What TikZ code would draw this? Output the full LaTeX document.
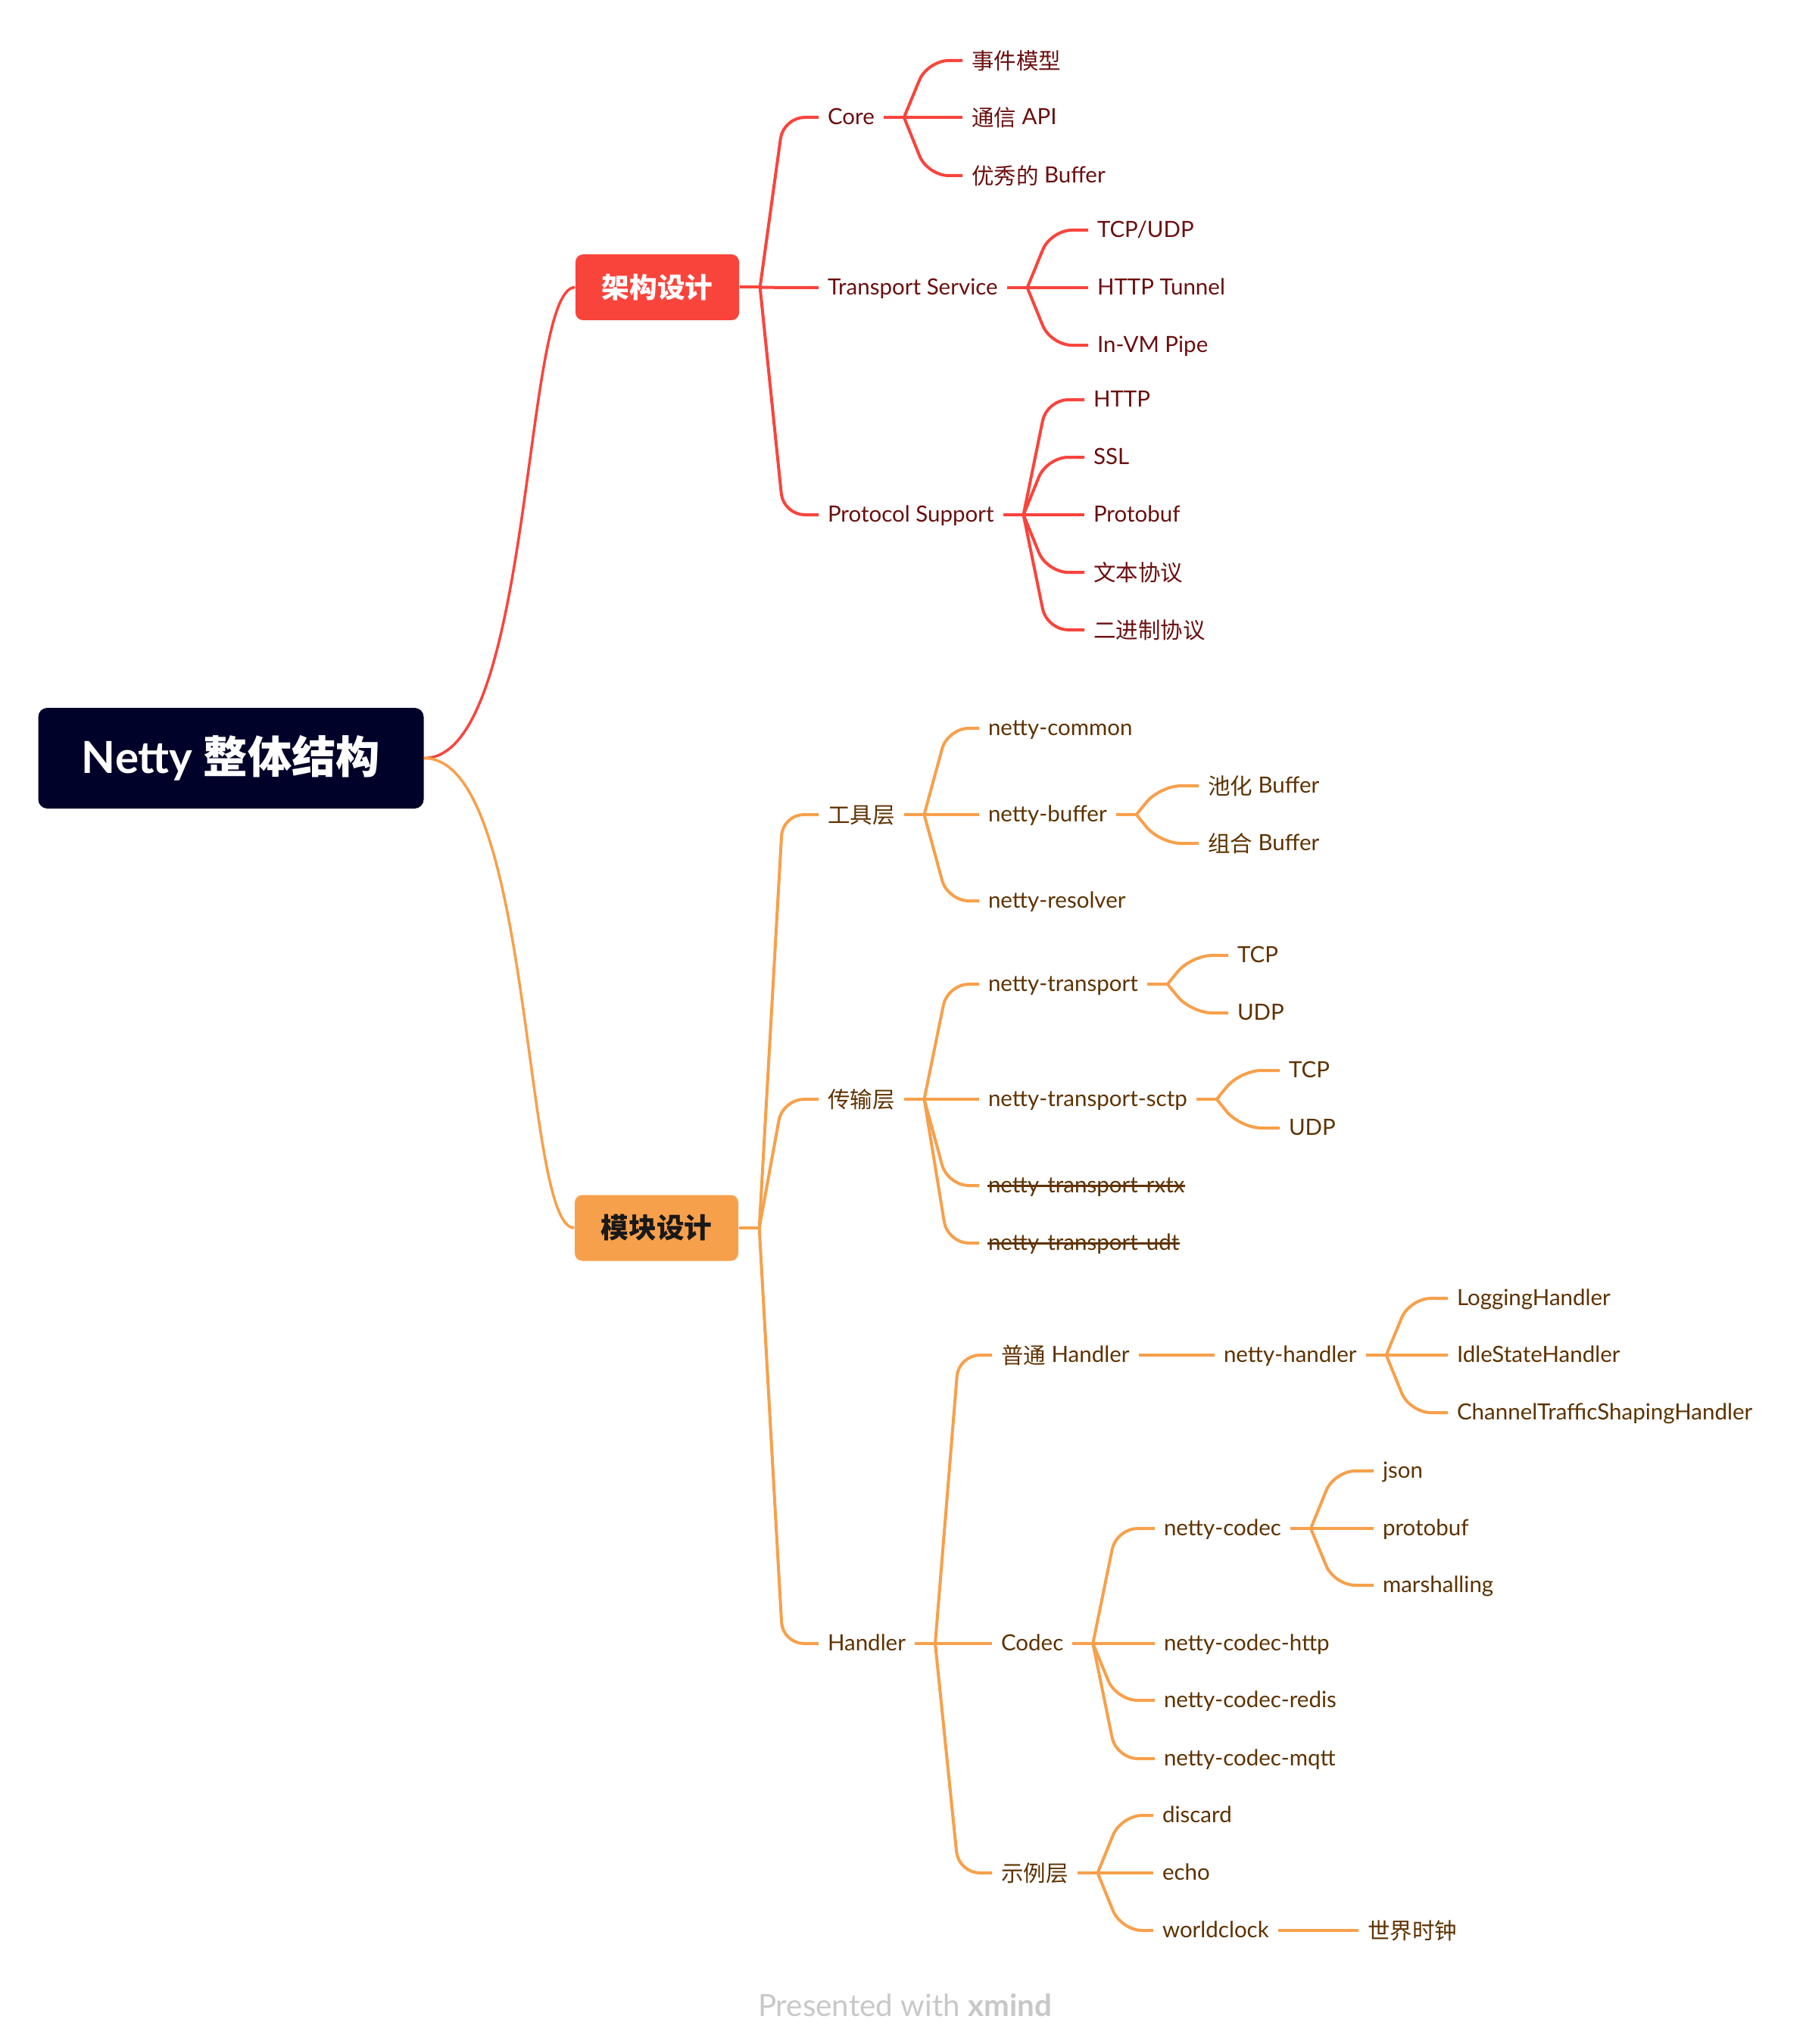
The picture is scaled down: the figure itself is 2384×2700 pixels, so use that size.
\documentclass[tikz,border=0pt]{standalone}
\usepackage{fontspec}
\setmainfont{Lato}
\newfontfamily\cjk{Noto Sans CJK SC}
\usetikzlibrary{calc}
\definecolor{cred}{HTML}{F9443C}
\definecolor{corange}{HTML}{F7A04B}
\definecolor{tred}{HTML}{6B0F0F}
\definecolor{tbrown}{HTML}{5E3200}
\definecolor{croot}{HTML}{000229}
\definecolor{cfoot}{HTML}{C8C8C8}
\newcommand\zh[1]{\raisebox{-0.08em}{\cjk #1}}
\newcommand\fk[2]{\coordinate (#1f) at ([xshift=8.1pt]#1.east);
  \coordinate (#1k) at ([xshift=17.4pt]#1.east);
  \draw[#2] (#1.east) -- (#1f);}
\newcommand\kid[3]{\draw[#1] (#2f) -- (#2k |- #3.west) -- (#3.west);}
\begin{document}
\begin{tikzpicture}[x=0.3pt,y=-0.3pt,
  lr/.style={anchor=west, inner sep=0pt, outer xsep=3.6pt, outer ysep=0pt,
    text height=7.5pt, text depth=1.86pt,
    font=\fontsize{8.85pt}{10pt}\selectfont, text=tred},
  lo/.style={lr, text=tbrown},
  cr/.style={draw=cred, line width=1.2pt, rounded corners=8.4pt},
  co/.style={draw=corange, line width=1.2pt, rounded corners=8.4pt},
  branch/.style={rounded corners=3pt, minimum width=64.8pt, minimum height=26.1pt,
    inner sep=0pt, font={\fontsize{11pt}{13pt}\selectfont\bfseries\cjk}},
  strike/.style={draw=tbrown, line width=0.9pt}
]
\useasboundingbox (0,0) rectangle (2384,2700);

% root and branches
\node[fill=croot, rounded corners=3.6pt, minimum width=152.7pt, minimum height=39.9pt,
  inner sep=0pt, text=white, font=\fontsize{17.5pt}{20pt}\selectfont\bfseries] (root) at (305,1001.5) {Netty {\cjk 整体结构}};
\node[branch, fill=cred, text=white] (ja) at (868,379.5) {架构设计};
\node[branch, fill=corange, text=black!90] (mk) at (867,1622) {模块设计};
\draw[cr, line width=1.05pt] (root.east) .. controls (705,1001) and (690,380) .. (ja.west);
\draw[co, line width=1.05pt] (root.east) .. controls (705,1001) and (690,1622) .. (mk.west);

% red subtree
\node[lr] (core) at (1081,155) {Core};
\node[lr] (ts) at (1081,380) {Transport Service};
\node[lr] (ps) at (1081,680) {Protocol Support};
\node[lr] (c1) at (1271,80) {\zh{事件模型}};
\node[lr] (c2) at (1271,155) {\zh{通信} API};
\node[lr] (c3) at (1271,232) {\zh{优秀的} Buffer};
\node[lr] (t1) at (1437,304) {TCP/UDP};
\node[lr] (t2) at (1437,380) {HTTP Tunnel};
\node[lr] (t3) at (1437,456) {In-VM Pipe};
\node[lr] (p1) at (1432,528) {HTTP};
\node[lr] (p2) at (1432,604) {SSL};
\node[lr] (p3) at (1432,680) {Protobuf};
\node[lr] (p4) at (1432,756) {\zh{文本协议}};
\node[lr] (p5) at (1432,832) {\zh{二进制协议}};

\fk{ja}{cr}
\kid{cr}{ja}{core}\kid{cr}{ja}{ts}\kid{cr}{ja}{ps}
\fk{core}{cr}
\kid{cr}{core}{c1}\kid{cr}{core}{c2}\kid{cr}{core}{c3}
\fk{ts}{cr}
\kid{cr}{ts}{t1}\kid{cr}{ts}{t2}\kid{cr}{ts}{t3}
\fk{ps}{cr}
\kid{cr}{ps}{p1}\kid{cr}{ps}{p2}\kid{cr}{ps}{p3}\kid{cr}{ps}{p4}\kid{cr}{ps}{p5}

% orange subtree
\node[lo] (gj) at (1081,1076) {\zh{工具层}};
\node[lo] (cs) at (1081,1452) {\zh{传输层}};
\node[lo] (hd) at (1081,2171) {Handler};
\node[lo] (nc) at (1293,962) {netty-common};
\node[lo] (nb) at (1293,1076) {netty-buffer};
\node[lo] (nr) at (1293,1190) {netty-resolver};
\node[lo] (bp) at (1583,1038) {\zh{池化} Buffer};
\node[lo] (bc) at (1583,1114) {\zh{组合} Buffer};
\node[lo] (nt) at (1293,1300) {netty-transport};
\node[lo] (ns) at (1293,1452) {netty-transport-sctp};
\node[lo] (rx) at (1293,1566) {netty-transport-rxtx};
\node[lo] (ud) at (1293,1642) {netty-transport-udt};
\node[lo] (tcpa) at (1622,1262) {TCP};
\node[lo] (udpa) at (1622,1338) {UDP};
\node[lo] (tcpb) at (1690,1414) {TCP};
\node[lo] (udpb) at (1690,1490) {UDP};
\node[lo] (pt) at (1310,1790) {\zh{普通} Handler};
\node[lo] (cd) at (1310,2171) {Codec};
\node[lo] (sl) at (1310,2474) {\zh{示例层}};
\node[lo] (nh) at (1604,1790) {netty-handler};
\node[lo] (ha) at (1912,1715) {LoggingHandler};
\node[lo] (hb) at (1912,1790) {IdleStateHandler};
\node[lo] (hc) at (1912,1866) {ChannelTrafficShapingHandler};
\node[lo] (ka) at (1525,2019) {netty-codec};
\node[lo] (kb) at (1525,2171) {netty-codec-http};
\node[lo] (kc) at (1525,2246) {netty-codec-redis};
\node[lo] (kd) at (1525,2323) {netty-codec-mqtt};
\node[lo] (ja1) at (1814,1943) {json};
\node[lo] (ja2) at (1814,2019) {protobuf};
\node[lo] (ja3) at (1814,2094) {marshalling};
\node[lo] (ea) at (1523,2398) {discard};
\node[lo] (eb) at (1523,2474) {echo};
\node[lo] (ec) at (1523,2550) {worldclock};
\node[lo] (sj) at (1794,2550) {\zh{世界时钟}};

\draw[strike] ([xshift=3.3pt]rx.west) -- ([xshift=-3.3pt]rx.east);
\draw[strike] ([xshift=3.3pt]ud.west) -- ([xshift=-3.3pt]ud.east);

\fk{mk}{co}
\kid{co}{mk}{gj}\kid{co}{mk}{cs}\kid{co}{mk}{hd}
\fk{gj}{co}
\kid{co}{gj}{nc}\kid{co}{gj}{nb}\kid{co}{gj}{nr}
\fk{nb}{co}
\kid{co}{nb}{bp}\kid{co}{nb}{bc}
\fk{cs}{co}
\kid{co}{cs}{nt}\kid{co}{cs}{ns}\kid{co}{cs}{rx}\kid{co}{cs}{ud}
\fk{nt}{co}
\kid{co}{nt}{tcpa}\kid{co}{nt}{udpa}
\fk{ns}{co}
\kid{co}{ns}{tcpb}\kid{co}{ns}{udpb}
\fk{hd}{co}
\kid{co}{hd}{pt}\kid{co}{hd}{cd}\kid{co}{hd}{sl}
\draw[co] (pt.east) -- (nh.west);
\fk{nh}{co}
\kid{co}{nh}{ha}\kid{co}{nh}{hb}\kid{co}{nh}{hc}
\fk{cd}{co}
\kid{co}{cd}{ka}\kid{co}{cd}{kb}\kid{co}{cd}{kc}\kid{co}{cd}{kd}
\fk{ka}{co}
\kid{co}{ka}{ja1}\kid{co}{ka}{ja2}\kid{co}{ka}{ja3}
\fk{sl}{co}
\kid{co}{sl}{ea}\kid{co}{sl}{eb}\kid{co}{sl}{ec}
\draw[co] (ec.east) -- (sj.west);

% footer
\node[anchor=base, inner sep=0pt, text=cfoot, font=\fontsize{12.1pt}{14pt}\selectfont] (foot) at (1195,2663) {Presented with \textbf{xmind}};
\end{tikzpicture}
\end{document}
